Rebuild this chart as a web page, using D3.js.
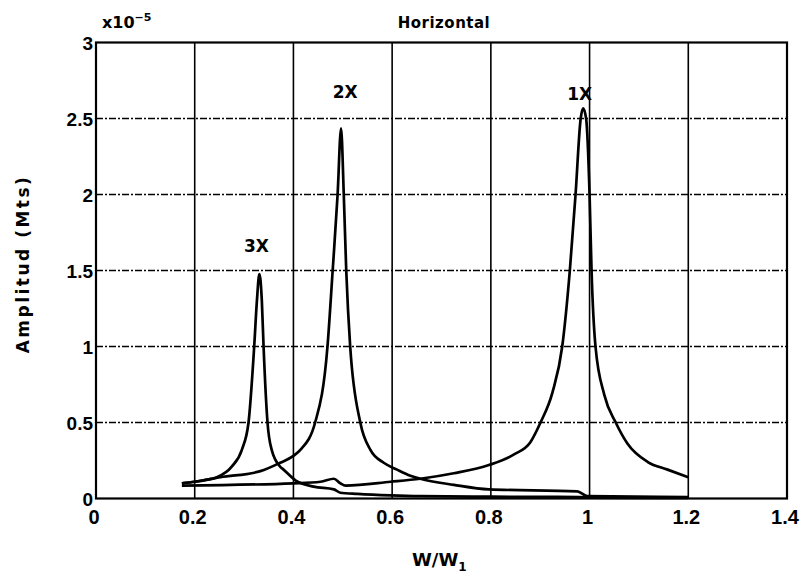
<!DOCTYPE html>
<html>
<head>
<meta charset="utf-8">
<script src="https://cdn.jsdelivr.net/npm/d3@7"></script>
<style>
  body { margin: 0; background: #fff; }
  text { font-family: "DejaVu Sans", sans-serif; font-weight: bold; fill: #000; }
  text.tick { font-family: "Liberation Sans", Arial, sans-serif; }
</style>
</head>
<body>
<script>
// data (amplitude in units of 1e-5 m)
var xTicks = [0, 0.2, 0.4, 0.6, 0.8, 1, 1.2, 1.4];
var yTicks = [0, 0.5, 1, 1.5, 2, 2.5, 3];

var w3X = [0.174,0.2,0.218,0.245,0.275,0.2955,0.309,0.3205,0.326,0.331,0.336,0.3395,0.3475,0.356,0.373,0.38,0.404,0.441,0.482,0.495,0.53,0.597,0.657,0.8,0.98,1.0,1.2];
var a3X = [0.10,0.11,0.12,0.14,0.21,0.32,0.5,1.0,1.3,1.477,1.3,1.0,0.5,0.32,0.21,0.19,0.12,0.078,0.06,0.038,0.03,0.02,0.015,0.012,0.01,0.005,0.004];

var w2X = [0.174,0.2,0.252,0.333,0.373,0.40,0.414,0.444,0.469,0.4795,0.4895,0.4965,0.502,0.507,0.515,0.5355,0.556,0.583,0.61,0.637,0.657,0.725,0.796,0.975,0.995,1.2];
var a2X = [0.10,0.11,0.14,0.18,0.235,0.28,0.32,0.5,1.0,1.5,2.0,2.435,2.0,1.5,1.0,0.5,0.32,0.235,0.19,0.15,0.13,0.09,0.06,0.047,0.016,0.01];

var w1X = [0.174,0.4,0.455,0.482,0.495,0.506,0.597,0.657,0.725,0.796,0.847,0.88,0.9006,0.925,0.9446,0.960,0.9716,0.982,0.987,0.993,1.0,1.004,1.012,1.03,1.053,1.077,1.118,1.158,1.2];
var a1X = [0.085,0.10,0.11,0.13,0.10,0.085,0.11,0.13,0.166,0.22,0.29,0.37,0.5,0.7,1.0,1.5,2.0,2.5,2.567,2.5,2.0,1.5,1.0,0.68,0.5,0.36,0.24,0.19,0.14];

var peakNames = ["3X", "2X", "1X"];
var peakLabelW = [0.325, 0.505, 0.98];
var peakLabelA = [1.62, 2.635, 2.62];

var width = 800, height = 573;
var margin = {left: 96, right: 13, top: 42.5, bottom: 74.5};

var svg = d3.select("body").append("svg")
    .attr("width", width)
    .attr("height", height);

var x = d3.scaleLinear().domain([0, 1.4]).range([margin.left, width - margin.right]);
var y = d3.scaleLinear().domain([0, 3]).range([height - margin.bottom, margin.top]);

//grid
svg.selectAll(".vgrid")
  .data(xTicks.slice(1, -1))
  .enter()
  .append("line")
    .attr("x1", function(d){ return x(d); })
    .attr("x2", function(d){ return x(d); })
    .attr("y1", y(0))
    .attr("y2", y(3))
    .attr("stroke", "#000")
    .attr("stroke-width", 1.6);

svg.selectAll(".hgrid")
  .data(yTicks.slice(1, -1))
  .enter()
  .append("line")
    .attr("x1", x(0))
    .attr("x2", x(1.4))
    .attr("y1", function(d){ return y(d); })
    .attr("y2", function(d){ return y(d); })
    .attr("stroke", "#000")
    .attr("stroke-width", 1.5)
    .attr("stroke-dasharray", "7,2,2,2");

//frame
svg.append("rect")
  .attr("x", x(0))
  .attr("y", y(3))
  .attr("width", x(1.4) - x(0))
  .attr("height", y(0) - y(3))
  .attr("fill", "none")
  .attr("stroke", "#000")
  .attr("stroke-width", 2.2);

//tick labels
svg.selectAll(".xlab")
  .data(xTicks)
  .enter()
  .append("text")
    .attr("class", "tick")
    .attr("x", function(d){ return x(d) - 2; })
    .attr("y", 524)
    .attr("text-anchor", "middle")
    .style("font-size", "20px")
    .text(function(d){ return d; });

svg.selectAll(".ylab")
  .data(yTicks)
  .enter()
  .append("text")
    .attr("class", "tick")
    .attr("x", 93)
    .attr("y", function(d){ return y(d); })
    .attr("dy", "0.4em")
    .attr("text-anchor", "end")
    .style("font-size", "19px")
    .text(function(d){ return d; });

//curves
var line = d3.line()
    .curve(d3.curveMonotoneX)
    .x(function(d){ return x(d[0]); })
    .y(function(d){ return y(d[1]); });

[[w3X, a3X], [w2X, a2X], [w1X, a1X]].forEach(function(s){
  svg.append("path")
    .datum(d3.zip(s[0], s[1]))
    .attr("d", line)
    .attr("fill", "none")
    .attr("stroke", "#000")
    .attr("stroke-width", 2.7)
    .attr("stroke-linejoin", "round");
});

//peak labels
svg.selectAll(".peak")
  .data(peakNames)
  .enter()
  .append("text")
    .attr("x", function(d, i){ return x(peakLabelW[i]); })
    .attr("y", function(d, i){ return y(peakLabelA[i]); })
    .attr("text-anchor", "middle")
    .style("font-size", "17px")
    .text(function(d){ return d; });

//titles
svg.append("text")
  .attr("x", 444)
  .attr("y", 28)
  .attr("text-anchor", "middle")
  .style("font-size", "15px")
  .style("letter-spacing", "0.5px")
  .text("Horizontal");

var expo = svg.append("text")
  .attr("x", 102)
  .attr("y", 28)
  .style("font-size", "16px");
expo.append("tspan").text("x10");
expo.append("tspan").attr("dy", -7).style("font-size", "11px").text("−5");

svg.append("text")
  .attr("transform", "translate(29,264) rotate(-90)")
  .attr("text-anchor", "middle")
  .style("font-size", "17px")
  .style("letter-spacing", "2.5px")
  .text("Amplitud (Mts)");

var xl = svg.append("text")
  .attr("x", 412)
  .attr("y", 566)
  .style("font-size", "18px");
xl.append("tspan").text("W/W");
xl.append("tspan").attr("dy", 5).style("font-size", "12px").text("1");
</script>
</body>
</html>
